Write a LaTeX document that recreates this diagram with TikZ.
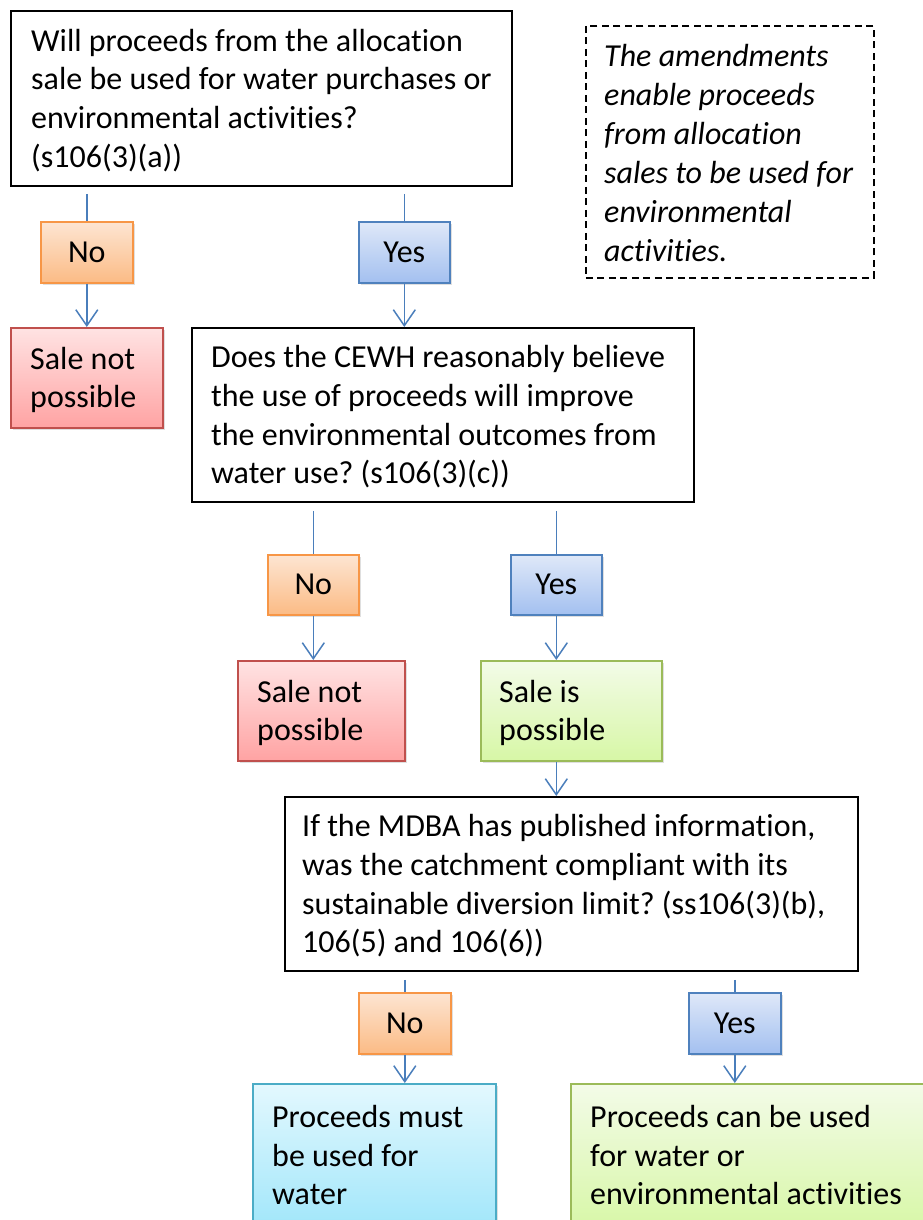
\documentclass[tikz,border=0pt]{standalone}
\usepackage{fontspec}
\setmainfont{Carlito}[Ligatures=NoCommon]
\usetikzlibrary{arrows.meta,shadows}
\definecolor{lineblue}{HTML}{4A7EBB}
\definecolor{orgB}{HTML}{F79646}\definecolor{orgT}{HTML}{FDE5D2}\definecolor{orgBot}{HTML}{FBBB85}
\definecolor{bluB}{HTML}{4F81BD}\definecolor{bluT}{HTML}{DFE8F8}\definecolor{bluBot}{HTML}{A3C0F0}
\definecolor{redB}{HTML}{C0504D}\definecolor{redT}{HTML}{FFE3E3}\definecolor{redBot}{HTML}{FFA3A3}
\definecolor{grnB}{HTML}{9BBB59}\definecolor{grnT}{HTML}{F3FBE8}\definecolor{grnBot}{HTML}{D7F7A6}
\definecolor{cyaB}{HTML}{4BACC6}\definecolor{cyaT}{HTML}{E3F8FE}\definecolor{cyaBot}{HTML}{A0E6FA}
\tikzset{
  box/.style={rectangle, anchor=north west, inner sep=0pt},
  qbox/.style={box, draw=black, line width=1.8pt, fill=white},
  notebox/.style={box, draw=black, line width=1.6pt, dash pattern=on 7pt off 4.5pt},
  colbox/.style={box, line width=1.6pt, drop shadow={opacity=0.25, shadow xshift=2pt, shadow yshift=-2.5pt},
    font=\fontsize{32}{38.6}\selectfont},
  lbl/.style={anchor=west, align=left, inner sep=0pt, font=\fontsize{32}{38.6}\selectfont\frenchspacing},
  itlbl/.style={lbl, font=\fontsize{32}{38.9}\selectfont\itshape\frenchspacing},
  nobox/.style={colbox, draw=orgB, top color=orgT, bottom color=orgBot},
  yesbox/.style={colbox, draw=bluB, top color=bluT, bottom color=bluBot},
  redbox/.style={colbox, draw=redB, top color=redT, bottom color=redBot},
  grnbox/.style={colbox, draw=grnB, top color=grnT, bottom color=grnBot},
  cyabox/.style={colbox, draw=cyaB, top color=cyaT, bottom color=cyaBot},
  conn/.style={draw=lineblue, line width=1.5pt},
  arr/.style={conn, -{Straight Barb[length=16pt,width=22pt,line width=1.5pt]}}
}
\begin{document}
\begin{tikzpicture}[x=1pt,y=-1pt]
\useasboundingbox (0,0) rectangle (923,1220);
\begin{scope}
\clip (0,0) rectangle (923,1220);
% boxes
\node[qbox, minimum width=501pt, minimum height=175pt] (q1) at (10,10) {};
\node[notebox, minimum width=288pt, minimum height=252pt] (note) at (585,25) {};
\node[nobox, minimum width=92pt, minimum height=61pt] (no1) at (40,221) {No};
\node[yesbox, minimum width=91pt, minimum height=61pt] (yes1) at (358,221) {Yes};
\node[redbox, minimum width=152pt, minimum height=100pt] (snp1) at (10,327) {};
\node[qbox, minimum width=502pt, minimum height=174pt] (q2) at (191,327) {};
\node[nobox, minimum width=91pt, minimum height=60pt] (no2) at (267,554) {No};
\node[yesbox, minimum width=91pt, minimum height=60pt] (yes2) at (510,554) {Yes};
\node[redbox, minimum width=167pt, minimum height=100pt] (snp2) at (237,660) {};
\node[grnbox, minimum width=181pt, minimum height=100pt] (sip) at (480,660) {};
\node[qbox, minimum width=573pt, minimum height=174pt] (q3) at (284,796) {};
\node[nobox, minimum width=92pt, minimum height=61pt] (no3) at (358,992) {No};
\node[yesbox, minimum width=92pt, minimum height=61pt] (yes3) at (688,992) {Yes};
\node[cyabox, minimum width=243pt, minimum height=147pt] (pm) at (252,1083) {};
\node[grnbox, minimum width=365pt, minimum height=147pt] (pc) at (570,1083) {};
% texts
\node[lbl] (q1t) at ([xshift=21pt,yshift=-2pt]q1.west)
  {Will proceeds from the allocation\\sale be used for water purchases or\\environmental activities?\\(s106(3)(a))};
\node[itlbl] (notet) at ([xshift=19pt,yshift=-1pt]note.west)
  {The amendments\\enable proceeds\\from allocation\\sales to be used for\\environmental\\activities.};
\node[lbl] (snp1t) at ([xshift=20pt,yshift=-2pt]snp1.west) {Sale not\\possible};
\node[lbl] (q2t) at ([xshift=20pt,yshift=-2pt]q2.west)
  {Does the CEWH reasonably believe\\the use of proceeds will improve\\the environmental outcomes from\\water use? (s106(3)(c))};
\node[lbl] (snp2t) at ([xshift=20pt,yshift=-2pt]snp2.west) {Sale not\\possible};
\node[lbl] (sipt) at ([xshift=19pt,yshift=-2pt]sip.west) {Sale is\\possible};
\node[lbl] (q3t) at ([xshift=18pt,yshift=-2pt]q3.west)
  {If the MDBA has published information,\\was the catchment compliant with its\\sustainable diversion limit? (ss106(3)(b),\\106(5) and 106(6))};
\node[lbl] (pmt) at ([xshift=20pt,yshift=2pt]pm.west) {Proceeds must\\be used for\\water};
\node[lbl] (pct) at ([xshift=20pt,yshift=2pt]pc.west) {Proceeds can be used\\for water or\\environmental activities};
% connectors
\draw[conn, shorten <=7pt] (q1.south -| no1) -- (no1);
\draw[arr] (no1) -- (no1 |- snp1.north);
\draw[conn, shorten <=7pt] (q1.south -| yes1) -- (yes1);
\draw[arr] (yes1) -- (yes1 |- q2.north);
\draw[conn, shorten <=8pt] (q2.south -| no2) -- (no2);
\draw[arr] (no2) -- (no2 |- snp2.north);
\draw[conn, shorten <=8pt] (q2.south -| yes2) -- (yes2);
\draw[arr] (yes2) -- (yes2 |- sip.north);
\draw[arr] (yes2 |- sip.south) -- (yes2 |- q3.north);
\draw[conn, shorten <=8pt] (q3.south -| no3) -- (no3);
\draw[arr] (no3) -- (no3 |- pm.north);
\draw[conn, shorten <=8pt] (q3.south -| yes3) -- (yes3);
\draw[arr] (yes3) -- (yes3 |- pc.north);
\end{scope}
\end{tikzpicture}
\end{document}
